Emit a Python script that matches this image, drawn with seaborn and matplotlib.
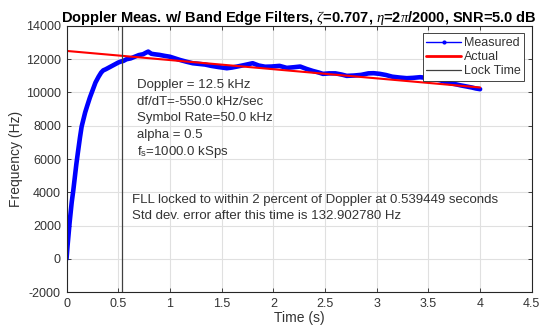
import numpy as np
import pandas as pd
import matplotlib
matplotlib.use("Agg")
import matplotlib.pyplot as plt
from matplotlib.lines import Line2D
import seaborn as sns

# ---- data ----
meas_t = [0.0, 0.01, 0.02, 0.03, 0.04, 0.05, 0.065, 0.08, 0.095, 0.11, 0.13, 0.146, 0.16,
          0.18, 0.2, 0.226, 0.25, 0.28, 0.31, 0.335, 0.355, 0.38, 0.41, 0.44, 0.47, 0.5,
          0.52, 0.55, 0.58, 0.62, 0.66, 0.7, 0.74, 0.77, 0.79, 0.82, 0.85, 0.9, 0.95, 1.0,
          1.05, 1.1, 1.16, 1.22, 1.28, 1.34, 1.4, 1.47, 1.55, 1.6, 1.65, 1.72, 1.8, 1.86,
          1.92, 1.98, 2.06, 2.13, 2.2, 2.26, 2.32, 2.38, 2.44, 2.48, 2.54, 2.6, 2.66, 2.71,
          2.78, 2.85, 2.92, 2.97, 3.03, 3.09, 3.15, 3.22, 3.29, 3.35, 3.42, 3.51, 3.56,
          3.62, 3.67, 3.71, 3.76, 3.81, 3.87, 3.92, 3.96, 4.0]
meas_f = [0, 800, 1500, 2200, 2800, 3400, 4100, 4900, 5700, 6400, 7300, 7950, 8300,
          8800, 9200, 9700, 10100, 10600, 10950, 11200, 11330, 11400, 11500, 11600, 11700, 11800,
          11850, 11900, 12000, 12050, 12150, 12250, 12300, 12400, 12460, 12330, 12300, 12260, 12200, 12150,
          12050, 11950, 11850, 11760, 11720, 11680, 11600, 11530, 11460, 11500, 11560, 11650, 11760, 11620,
          11550, 11560, 11600, 11480, 11520, 11560, 11420, 11300, 11200, 11120, 11150, 11150, 11080, 11000,
          11020, 11060, 11150, 11160, 11120, 11050, 10950, 10900, 10860, 10880, 10920, 10860, 10800,
          10720, 10620, 10560, 10500, 10430, 10360, 10300, 10240, 10200]

actual_t = [0.0, 4.0]
actual_f = [12500, 10300]

lock_time = 0.539449

x_ticks = [0, 0.5, 1, 1.5, 2, 2.5, 3, 3.5, 4, 4.5]
y_ticks = [-2000, 0, 2000, 4000, 6000, 8000, 10000, 12000, 14000]

params_text = ["Doppler = 12.5 kHz", "df/dT=-550.0 kHz/sec", "Symbol Rate=50.0 kHz",
               "alpha = 0.5", r"f$_\mathrm{s}$=1000.0 kSps"]
fll_text = ["FLL locked to within 2 percent of Doppler at 0.539449 seconds",
            "Std dev. error after this time is 132.902780 Hz"]

# ---- plotting ----
sns.set_theme(style="ticks")
plt.rcParams["font.family"] = ["Liberation Sans", "DejaVu Sans"]
plt.rcParams["mathtext.fontset"] = "custom"
plt.rcParams["mathtext.rm"] = "Liberation Sans"
plt.rcParams["mathtext.it"] = "Liberation Serif:italic"

fig = plt.figure(figsize=(5.41, 3.33), dpi=100)
ax = fig.add_axes([0.123, 0.123, 0.860, 0.799])

axc = "#262626"
txtc = "#333333"
df_m = pd.DataFrame({"t": meas_t, "f": meas_f})
df_a = pd.DataFrame({"t": actual_t, "f": actual_f})

sns.lineplot(data=df_m, x="t", y="f", ax=ax, color="#0000ff", lw=3.3,
             estimator=None, sort=False, solid_joinstyle="round")
sns.lineplot(data=df_a, x="t", y="f", ax=ax, color="#ff0000", lw=1.5,
             estimator=None, sort=False)
ax.axvline(lock_time, color="#404040", lw=0.9)

ax.set_xlim(0, 4.5)
ax.set_ylim(-2000, 14000)
ax.set_xticks(x_ticks)
ax.set_xticklabels([f"{v:g}" for v in x_ticks])
ax.set_yticks(y_ticks)
ax.set_yticklabels([f"{v:d}" for v in y_ticks])
ax.grid(True, color="#e0e0e0", lw=0.8)
ax.set_axisbelow(True)
for s in ax.spines.values():
    s.set_color(axc)
    s.set_linewidth(0.8)
    s.set_visible(True)
ax.tick_params(direction="in", length=3, width=0.6, colors=axc, labelcolor=txtc,
               labelsize=9, top=True, right=True, pad=4)

ax.set_xlabel("Time (s)", fontsize=10, color=txtc, labelpad=1)
ax.set_ylabel("Frequency (Hz)", fontsize=10, color=txtc, labelpad=2)
ax.set_title(r"Doppler Meas. w/ Band Edge Filters, $\zeta$=0.707, $\eta$=2$\pi$/2000, SNR=5.0 dB",
             fontsize=10.5, fontweight="bold", color="black", pad=3)

ys = [10450, 9450, 8450, 7450, 6450]
for s, yv in zip(params_text, ys):
    ax.text(0.678, yv, s, fontsize=9.5, color=txtc, va="center", ha="left")
for s, yv in zip(fll_text, [3560, 2580]):
    ax.text(0.63, yv, s, fontsize=9.5, color=txtc, va="center", ha="left")

handles = [Line2D([], [], color="#0000ff", lw=1, marker=".", markersize=4),
           Line2D([], [], color="#ff0000", lw=2),
           Line2D([], [], color="#404040", lw=0.9)]
leg = ax.legend(handles, ["Measured", "Actual", "Lock Time"], loc="upper right",
                fontsize=9, frameon=True, fancybox=False, framealpha=1,
                edgecolor=axc, borderpad=0.3, labelspacing=0.15, handlelength=2.8,
                handletextpad=0.2, borderaxespad=0.6)
leg.get_frame().set_linewidth(0.6)
for t in leg.get_texts():
    t.set_color(txtc)

fig.savefig("out.png", dpi=100)
